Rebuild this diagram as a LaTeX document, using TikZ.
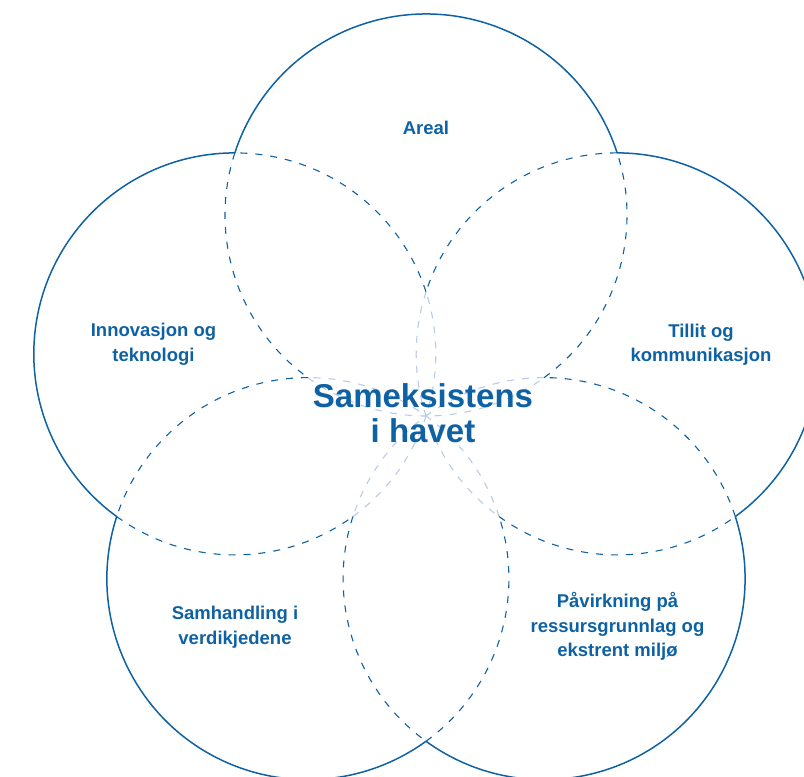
\documentclass[tikz,border=0pt]{standalone}
\usepackage{fontspec}
\setmainfont{Liberation Sans}
\definecolor{havblue}{RGB}{14,98,164}
\definecolor{havpale}{RGB}{186,202,232}
\tikzset{
  petal/.style={havblue, line width=1.5pt},
  overlap/.style={havblue, line width=1.1pt, dash pattern=on 7pt off 8pt},
  deepoverlap/.style={havpale, line width=1.1pt, dash pattern=on 7pt off 8pt},
  petallabel/.style={text=havblue, font=\bfseries\fontsize{18.5}{24.5}\selectfont, align=center},
  hubtext/.style={text=havblue, font=\bfseries\fontsize{33}{35}\selectfont, align=center},
}

\begin{document}
\begin{tikzpicture}[x=1pt,y=1pt]
\tikzstyle{every node}+=[inner sep=0pt]
\useasboundingbox (0,0) rectangle (804,-777);
\clip (0,0) rectangle (804,-777);
% circle centres
\coordinate (areal) at (426,-215);
\coordinate (innov) at (234.8,-353.9);
\coordinate (tillit) at (617.2,-353.9);
\coordinate (samh) at (307.9,-578.6);
\coordinate (pavirk) at (544.1,-578.6);
% parts inside two other circles
\draw [deepoverlap] ([shift={(234:201pt)}]areal) arc [start angle=234, end angle=306, radius=201pt];
\draw [deepoverlap] ([shift={(306:201pt)}]innov) arc [start angle=306, end angle=378, radius=201pt];
\draw [deepoverlap] ([shift={(378:201pt)}]samh) arc [start angle=378, end angle=450, radius=201pt];
\draw [deepoverlap] ([shift={(450:201pt)}]pavirk) arc [start angle=450, end angle=522, radius=201pt];
\draw [deepoverlap] ([shift={(162:201pt)}]tillit) arc [start angle=162, end angle=234, radius=201pt];
% parts inside one other circle
\draw [overlap] ([shift={(162:201pt)}]areal) arc [start angle=162, end angle=234, radius=201pt];
\draw [overlap] ([shift={(306:201pt)}]areal) arc [start angle=306, end angle=378, radius=201pt];
\draw [overlap] ([shift={(234:201pt)}]innov) arc [start angle=234, end angle=306, radius=201pt];
\draw [overlap] ([shift={(378:201pt)}]innov) arc [start angle=378, end angle=450, radius=201pt];
\draw [overlap] ([shift={(306:201pt)}]samh) arc [start angle=306, end angle=378, radius=201pt];
\draw [overlap] ([shift={(450:201pt)}]samh) arc [start angle=450, end angle=522, radius=201pt];
\draw [overlap] ([shift={(378:201pt)}]pavirk) arc [start angle=378, end angle=450, radius=201pt];
\draw [overlap] ([shift={(522:201pt)}]pavirk) arc [start angle=522, end angle=594, radius=201pt];
\draw [overlap] ([shift={(90:201pt)}]tillit) arc [start angle=90, end angle=162, radius=201pt];
\draw [overlap] ([shift={(234:201pt)}]tillit) arc [start angle=234, end angle=306, radius=201pt];
% outer rim
\draw [petal] ([shift={(18:201pt)}]areal) arc [start angle=18, end angle=162, radius=201pt];
\draw [petal] ([shift={(90:201pt)}]innov) arc [start angle=90, end angle=234, radius=201pt];
\draw [petal] ([shift={(162:201pt)}]samh) arc [start angle=162, end angle=306, radius=201pt];
\draw [petal] ([shift={(234:201pt)}]pavirk) arc [start angle=234, end angle=378, radius=201pt];
\draw [petal] ([shift={(-54:201pt)}]tillit) arc [start angle=-54, end angle=90, radius=201pt];
% labels
\node (arealtext) [petallabel] at (426,-128) {Areal};
\node (innovtext) [petallabel] at (153.5,-344.5) {Innovasjon og\\teknologi};
\node (tillittext) [petallabel] at (701,-344.5) {Tillit og\\kommunikasjon};
\node (samhtext) [petallabel] at (235,-627) {Samhandling i\\verdikjedene};
\node (pavirktext) [petallabel] at (617.5,-626.6) {Påvirkning på\\ressursgrunnlag og\\ekstrent miljø};
\node (hub) [hubtext] at (423,-412.8) {Sameksistens\\i havet};
\end{tikzpicture}
\end{document}
